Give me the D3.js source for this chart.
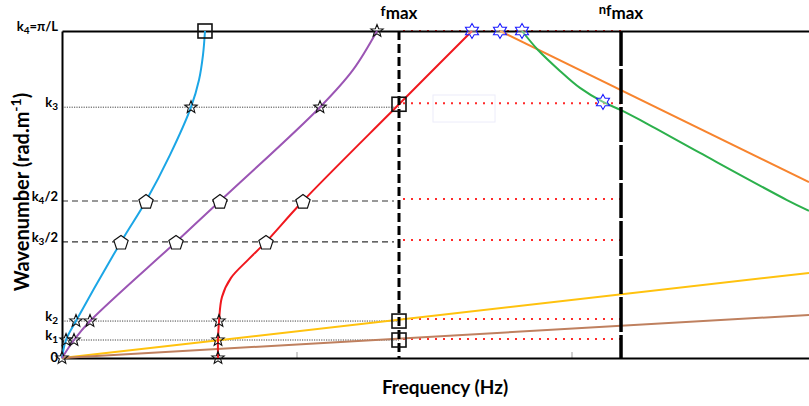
<!DOCTYPE html>
<html><head><meta charset="utf-8">
<script src="https://cdn.jsdelivr.net/npm/d3@7"></script>
<style>
body{margin:0;background:#fff}
svg{display:block}
text{font-family:Lato,'Open Sans',sans-serif;font-weight:bold;fill:#000}
</style>
</head><body>
<svg id="c" width="809" height="406"></svg>
<script>
// ---------- data (frequency in units where fmax = 100, wavenumber where k4 = pi/L = 1) ----------
const fMax = 100;
const nfMax = 165.88;
const yTickValues = [0, 0.055, 0.113, 0.355, 0.480, 0.767, 1];
const yTickLabels = ["0", "k|1|", "k|2|", "k|3|/2", "k|4|/2", "k|3|", "k|4|=π/L"];

const blueF   = [0, 1.19, 4.15, 17.51, 24.93, 32.05, 38.28, 40.65, 41.84, 42.43];
const blueK   = [0, 0.055, 0.113, 0.355, 0.480, 0.621, 0.767, 0.850, 0.927, 1];
const purpleF = [0, 3.56, 8.31, 33.83, 46.88, 76.56, 86.35, 93.47];
const purpleK = [0, 0.055, 0.113, 0.355, 0.480, 0.767, 0.881, 1];
const redF    = [46.29, 46.29, 46.59, 47.48, 50.15, 55.19, 60.53, 71.51, 100, 121.66];
const redK    = [0, 0.055, 0.113, 0.187, 0.245, 0.300, 0.355, 0.480, 0.776, 1];
const orangeF = [129.97, 221.66];
const orangeK = [1, 0.538];
const greenF  = [136.50, 141.25, 147.77, 153.71, 160.53, 165.88, 171.51, 189.32, 215.13, 221.66];
const greenK  = [1, 0.942, 0.878, 0.826, 0.783, 0.758, 0.728, 0.627, 0.483, 0.450];
const yellowF = [0, 221.66];
const yellowK = [0, 0.260];
const brownF  = [0, 221.66];
const brownK  = [0, 0.1315];

const starF = [0, 1.19, 3.56, 4.15, 8.31, 38.28, 76.56, 93.47, 46.29, 46.29, 46.59];
const starK = [0, 0.055, 0.055, 0.113, 0.113, 0.767, 0.767, 1, 0, 0.055, 0.113];
const pentF = [17.51, 24.93, 33.83, 46.88, 60.53, 71.51];
const pentK = [0.355, 0.480, 0.355, 0.480, 0.355, 0.480];
const squareF = [42.43, 100, 100, 100];
const squareK = [1, 0.776, 0.113, 0.055];
const hexF = [121.66, 129.97, 136.50, 160.53];
const hexK = [1, 1, 1, 0.783];

const blackDotLevels = [0.767, 0.113, 0.055];
const blackDashLevels = [0.480, 0.355];
const redDotLevels = [1, 0.779, 0.486, 0.361, 0.119, 0.058];
const faintTickF = [69.73, 151.34];

// ---------- drawing ----------
const svg = d3.select("#c");
const x = d3.scaleLinear().domain([0, 221.66]).range([62, 809]);
const y = d3.scaleLinear().domain([0, 1]).range([358, 31]);
const zip = (a, b) => a.map((v, i) => [v, b[i]]);

// faint artifact box
svg.append("rect").attr("x", 433).attr("y", 95).attr("width", 62).attr("height", 27)
  .attr("fill", "none").attr("stroke", "#ececfa").attr("stroke-width", 1);

// faint ticks on the frequency axis
svg.selectAll(".ft").data(faintTickF).join("line")
  .attr("x1", d => x(d)).attr("x2", d => x(d)).attr("y1", y(0) - 6).attr("y2", y(0))
  .attr("stroke", "#cfcfcf").attr("stroke-width", 2);

// reference lines
svg.selectAll(".bd").data(blackDotLevels).join("line")
  .attr("x1", x(0)).attr("x2", x(fMax)).attr("y1", d => y(d)).attr("y2", d => y(d))
  .attr("stroke", "#444").attr("stroke-width", 1).attr("stroke-dasharray", "1.2,1.2");
svg.selectAll(".bh").data(blackDashLevels).join("line")
  .attr("x1", x(0)).attr("x2", x(fMax) - 5).attr("y1", d => y(d)).attr("y2", d => y(d))
  .attr("stroke", "#333").attr("stroke-width", 1.1).attr("stroke-dasharray", "6,4");
svg.selectAll(".rd").data(redDotLevels).join("line")
  .attr("x1", x(fMax) + 4).attr("x2", x(nfMax)).attr("y1", d => y(d)).attr("y2", d => y(d))
  .attr("stroke", "#ff2a2a").attr("stroke-width", 2).attr("stroke-dasharray", "2,6");

// axes
const gl = svg.append("g").attr("transform", `translate(${x(0)},0)`)
  .call(d3.axisLeft(y).tickValues(yTickValues).tickSize(0).tickPadding(6).tickFormat(""));
gl.select(".domain").attr("stroke", "#000").attr("stroke-width", 2);
gl.selectAll(".tick text").each(function (d, i) {
  const parts = yTickLabels[i].split("|");
  const t = d3.select(this).attr("font-size", 13).attr("x", -4)
    .attr("dy", parts.length > 1 ? "-0.05em" : "0.3em")
    .attr("font-family", "Lato,'Open Sans',sans-serif").attr("font-weight", "bold");
  t.append("tspan").text(parts[0]);
  if (parts.length > 1) {
    t.append("tspan").attr("font-size", 10).attr("dy", 3).text(parts[1]);
    if (parts[2]) t.append("tspan").attr("dy", -3).text(parts[2]);
  }
});
const gb = svg.append("g").attr("transform", `translate(0,${y(0)})`)
  .call(d3.axisBottom(x).tickValues([]).tickSizeOuter(0));
gb.select(".domain").attr("stroke", "#000").attr("stroke-width", 2);
const gt = svg.append("g").attr("transform", `translate(0,${y(1)})`)
  .call(d3.axisTop(x).tickValues([]).tickSizeOuter(0));
gt.select(".domain").attr("stroke", "#000").attr("stroke-width", 2);

// curves
const lineC = d3.line().x(d => x(d[0])).y(d => y(d[1])).curve(d3.curveCatmullRom.alpha(0.5));
const lineS = d3.line().x(d => x(d[0])).y(d => y(d[1]));
const series = [
  {p: zip(yellowF, yellowK), c: "#ffc20e", g: lineS},
  {p: zip(brownF, brownK), c: "#bf805f", g: lineS},
  {p: zip(blueF, blueK), c: "#1ba6e6", g: lineC},
  {p: zip(purpleF, purpleK), c: "#9b55b4", g: lineC},
  {p: zip(redF, redK), c: "#f0181e", g: lineC},
  {p: zip(orangeF, orangeK), c: "#f7842e", g: lineS},
  {p: zip(greenF, greenK), c: "#2cb04c", g: lineC}
];
svg.selectAll(".curve").data(series).join("path")
  .attr("d", d => d.g(d.p)).attr("fill", "none").attr("stroke", d => d.c).attr("stroke-width", 2);

// vertical lines
svg.append("line").attr("x1", x(fMax)).attr("x2", x(fMax)).attr("y1", y(1)).attr("y2", y(0))
  .attr("stroke", "#000").attr("stroke-width", 3).attr("stroke-dasharray", "9,4");
svg.append("line").attr("x1", x(nfMax)).attr("x2", x(nfMax)).attr("y1", y(1)).attr("y2", y(0))
  .attr("stroke", "#000").attr("stroke-width", 3.5).attr("stroke-dasharray", "35,3");

// markers
function starPath(n, R, r) {
  const pts = [];
  for (let i = 0; i < 2 * n; i++) {
    const a = -Math.PI / 2 + i * Math.PI / n;
    const rr = i % 2 ? r : R;
    pts.push([rr * Math.cos(a), rr * Math.sin(a)]);
  }
  return "M" + pts.map(p => p[0].toFixed(2) + "," + p[1].toFixed(2)).join("L") + "Z";
}
function polyPath(n, R) {
  const pts = [];
  for (let i = 0; i < n; i++) {
    const a = -Math.PI / 2 + i * 2 * Math.PI / n;
    pts.push([R * Math.cos(a), R * Math.sin(a)]);
  }
  return "M" + pts.map(p => p[0].toFixed(2) + "," + p[1].toFixed(2)).join("L") + "Z";
}
svg.selectAll(".sq").data(zip(squareF, squareK)).join("rect")
  .attr("x", d => x(d[0]) - 7).attr("y", d => y(d[1]) - 7).attr("width", 14).attr("height", 14)
  .attr("fill", "none").attr("stroke", "#111").attr("stroke-width", 1.6);
svg.selectAll(".pent").data(zip(pentF, pentK)).join("path")
  .attr("transform", d => `translate(${x(d[0])},${y(d[1]) + 1})`)
  .attr("d", polyPath(5, 7.5)).attr("fill", "#fff").attr("stroke", "#111").attr("stroke-width", 1.2);
svg.selectAll(".star").data(zip(starF, starK)).join("path")
  .attr("transform", d => `translate(${x(d[0])},${y(d[1])})`)
  .attr("d", starPath(5, 6.5, 2.8)).attr("fill", "none").attr("stroke", "#111").attr("stroke-width", 1.1);
svg.selectAll(".hex").data(zip(hexF, hexK)).join("path")
  .attr("transform", d => `translate(${x(d[0])},${y(d[1])})`)
  .attr("d", starPath(6, 7.5, 4.3)).attr("fill", "#fff").attr("fill-opacity", 0.35)
  .attr("stroke", "#1a1aff").attr("stroke-width", 1.1);

// titles
const tf = svg.append("text").attr("x", x(fMax)).attr("y", 19).attr("text-anchor", "middle");
tf.append("tspan").attr("font-size", 14).attr("dy", -3).text("f");
tf.append("tspan").attr("font-size", 17).attr("dy", 3).text("max");
const tn = svg.append("text").attr("x", x(nfMax)).attr("y", 19).attr("text-anchor", "middle");
tn.append("tspan").attr("font-size", 13).attr("dy", -5).text("n");
tn.append("tspan").attr("font-size", 15).attr("dy", 2).text("f");
tn.append("tspan").attr("font-size", 17).attr("dy", 3).text("max");

svg.append("text").attr("x", 445).attr("y", 394).attr("text-anchor", "middle")
  .attr("font-size", 19).text("Frequency (Hz)");
const yt = svg.append("text").attr("transform", "translate(29,192) rotate(-90)")
  .attr("text-anchor", "middle").attr("font-size", 20);
yt.append("tspan").text("Wavenumber (rad.m");
yt.append("tspan").attr("font-size", 14).attr("dy", -8).text("-1");
yt.append("tspan").attr("dy", 8).text(")");
</script>
</body></html>
